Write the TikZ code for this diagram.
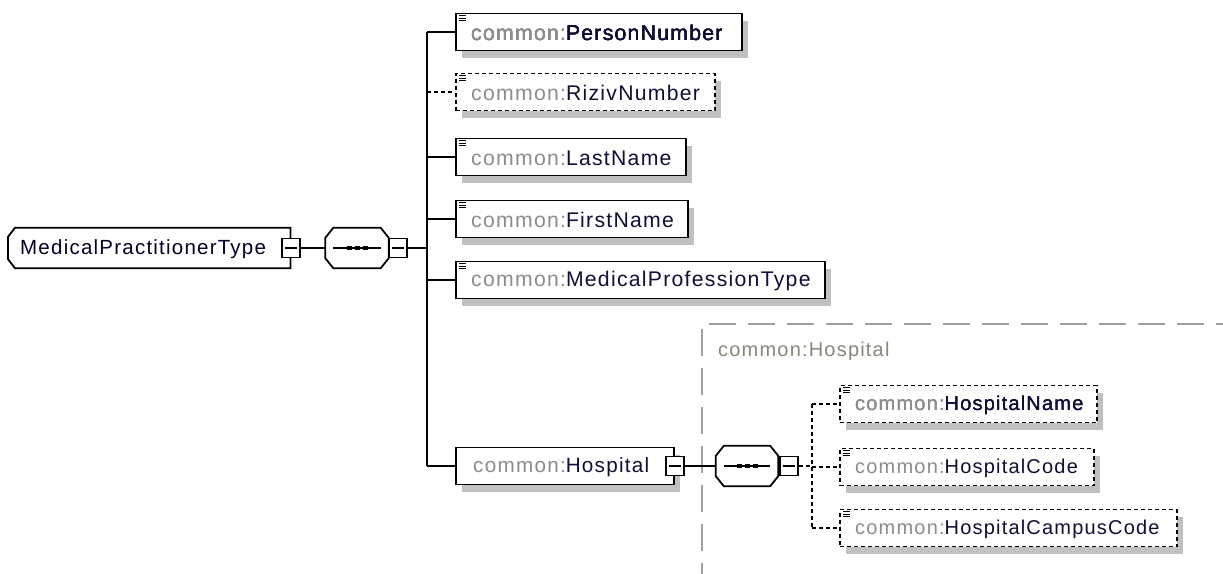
\documentclass[tikz,border=0pt]{standalone}
\usepackage{fontspec}
\setmainfont{Liberation Sans}[LetterSpace=6]
\usetikzlibrary{shadows}
\definecolor{nsgray}{RGB}{140,140,140}
\definecolor{namecol}{RGB}{15,15,55}
\definecolor{shadowgray}{RGB}{192,192,192}
\definecolor{grpgray}{RGB}{160,160,160}
\definecolor{grplabel}{RGB}{135,135,120}
\newcommand\ns[1]{\textcolor{nsgray}{#1}}
\newcommand\nm[1]{\textcolor{namecol}{#1}}
\tikzset{
  shad/.style={general shadow={shadow xshift=6pt, shadow yshift=-7pt, fill=shadowgray, draw=none}},
  elem/.style={draw, line width=1.8pt, fill=white, shad, minimum height=37pt, anchor=west, inner sep=0pt},
  optelem/.style={elem, dash pattern=on 4pt off 3pt},
  lbl/.style={anchor=west, inner sep=0pt, font=\fontsize{21.2}{23}\selectfont},
  lbls/.style={anchor=west, inner sep=0pt, font=\fontsize{20}{22}\selectfont},
  frame/.style={draw=none, inner sep=0pt, minimum height=40pt},
  shapeline/.style={draw, line width=1.8pt, fill=white},
  shadowfill/.style={fill=shadowgray, xshift=6pt, yshift=-7pt},
  minusbox/.style={draw, line width=1.6pt, fill=white, minimum width=18pt, minimum height=19pt, inner sep=0pt},
  conn/.style={line width=1.6pt},
  optconn/.style={line width=1.6pt, dash pattern=on 4pt off 3pt},
  grp/.style={draw=grpgray, line width=1.5pt, dash pattern=on 27pt off 12pt},
}
\newcommand\eicon[1]{\foreach \d in {3,5.5,8} \draw[line width=1.2pt] ([xshift=3.5pt,yshift=-\d pt]#1.north west) -- ++(7.5pt,0);}
\newcommand\minusline[1]{\draw[line width=1.4pt] ([xshift=4pt]#1.west) -- ([xshift=-4pt]#1.east);}
\newcommand\seqdots[1]{\draw[line width=1.5pt] ([xshift=8pt]#1.west) -- ([xshift=-8pt]#1.east);
  \foreach \dx in {-8,0,8} \fill ([xshift=\dx pt]#1.center) ++(-2.5pt,-2pt) rectangle ++(5pt,4pt);}
% root outline: left corners cut
\newcommand\rootpath[1]{([xshift=7pt]#1.north west) -- (#1.north east) -- (#1.south east) -- ([xshift=7pt]#1.south west) -- ([yshift=9pt]#1.south west) -- ([yshift=-9pt]#1.north west) -- cycle}
% sequence outline: all corners cut
\newcommand\seqpath[1]{([xshift=8pt]#1.north west) -- ([xshift=-8pt]#1.north east) -- ([yshift=-10pt]#1.north east) -- ([yshift=10pt]#1.south east) -- ([xshift=-8pt]#1.south east) -- ([xshift=8pt]#1.south west) -- ([yshift=10pt]#1.south west) -- ([yshift=-10pt]#1.north west) -- cycle}
\begin{document}
\begin{tikzpicture}[x=1pt,y=-1pt]
\useasboundingbox (0,0) rectangle (1223,573);
% group
\draw[grp] (702,590) -- (702,324) -- (1240,324);
\node[lbls, text=grplabel] (grpl) at (718,351) {common:Hospital};
% root
\node[frame, minimum width=282pt, anchor=west] (root) at (8,248) {};
\fill[shadowfill] \rootpath{root};
\draw[shapeline] \rootpath{root};
\node[lbls, font=\fontsize{20.5}{22}\selectfont] (roott) at (20,249) {\textcolor{black!85!blue}{MedicalPractitionerType}};
\node[minusbox] (rm) at (291,248) {};
\minusline{rm}
% sequence 1
\node[frame, minimum width=63pt] (s1) at (357,248) {};
\fill[shadowfill] \seqpath{s1};
\draw[shapeline] \seqpath{s1};
\seqdots{s1}
\node[minusbox] (sm1) at (398,248) {};
\minusline{sm1}
\draw[conn] (rm.east) -- (s1.west);
\coordinate (b1) at (427,248);
\draw[conn] (sm1.east) -- (b1);
% children
\node[elem, minimum width=286pt] (pn) at (455,32) {};
\node[elem, minimum width=259pt, optelem] (rz) at (455,92) {};
\node[elem, minimum width=230pt] (ln) at (455,157) {};
\node[elem, minimum width=232pt] (fn) at (455,219) {};
\node[elem, minimum width=369pt] (mp) at (455,280) {};
\node[elem, minimum width=218pt] (hosp) at (455,466) {};
\draw[conn] (b1 |- pn.west) -- (b1 |- hosp.west);
\foreach \n in {pn,ln,fn,mp,hosp} \draw[conn] (b1 |- \n.west) -- (\n.west);
\draw[optconn] (b1 |- rz.west) -- (rz.west);
\foreach \n in {pn,rz,ln,fn,mp} \eicon{\n}
\node[lbl] (pnt) at ([xshift=16pt,yshift=-1pt]pn.west) {\ns{common:}\nm{PersonNumber}};
\node[lbl] (rzt) at ([xshift=16pt,yshift=-1pt]rz.west) {\ns{common:}\nm{RizivNumber}};
\node[lbl] (lnt) at ([xshift=16pt,yshift=-1pt]ln.west) {\ns{common:}\nm{LastName}};
\node[lbl] (fnt) at ([xshift=16pt,yshift=-1pt]fn.west) {\ns{common:}\nm{FirstName}};
\node[lbl] (mpt) at ([xshift=16pt,yshift=-1pt]mp.west) {\ns{common:}\nm{MedicalProfessionType}};
\node[lbl, font=\fontsize{20.7}{22}\selectfont] (hospt) at ([xshift=18pt,yshift=-1pt]hosp.west) {\ns{common:}\nm{Hospital}};
\node[minusbox] (hm) at (hosp.east) {};
\minusline{hm}
% sequence 2
\node[frame, minimum width=62pt] (s2) at (747,466) {};
\fill[shadowfill] \seqpath{s2};
\draw[shapeline] \seqpath{s2};
\seqdots{s2}
\node[minusbox] (sm2) at (789,466) {};
\minusline{sm2}
\draw[conn] (hm.east) -- (s2.west);
\coordinate (b2) at (812,466);
\node[optelem, minimum width=257pt] (hn) at (839,404) {};
\node[optelem, minimum width=254pt] (hc) at (839,467) {};
\node[optelem, minimum width=337pt] (hcc) at (839,528) {};
\draw[optconn] (sm2.east) -- (b2);
\draw[optconn] (b2 |- hn.west) -- (b2 |- hcc.west);
\foreach \n in {hn,hc,hcc} \draw[optconn] (b2 |- \n.west) -- (\n.west);
\foreach \n in {hn,hc,hcc} \eicon{\n}
\node[lbls] (hnt) at ([xshift=16pt,yshift=-1pt]hn.west) {\ns{common:}\nm{HospitalName}};
\node[lbls] (hct) at ([xshift=16pt,yshift=-1pt]hc.west) {\ns{common:}\nm{HospitalCode}};
\node[lbls] (hcct) at ([xshift=16pt,yshift=-1pt]hcc.west) {\ns{common:}\nm{HospitalCampusCode}};
\end{tikzpicture}
\end{document}
